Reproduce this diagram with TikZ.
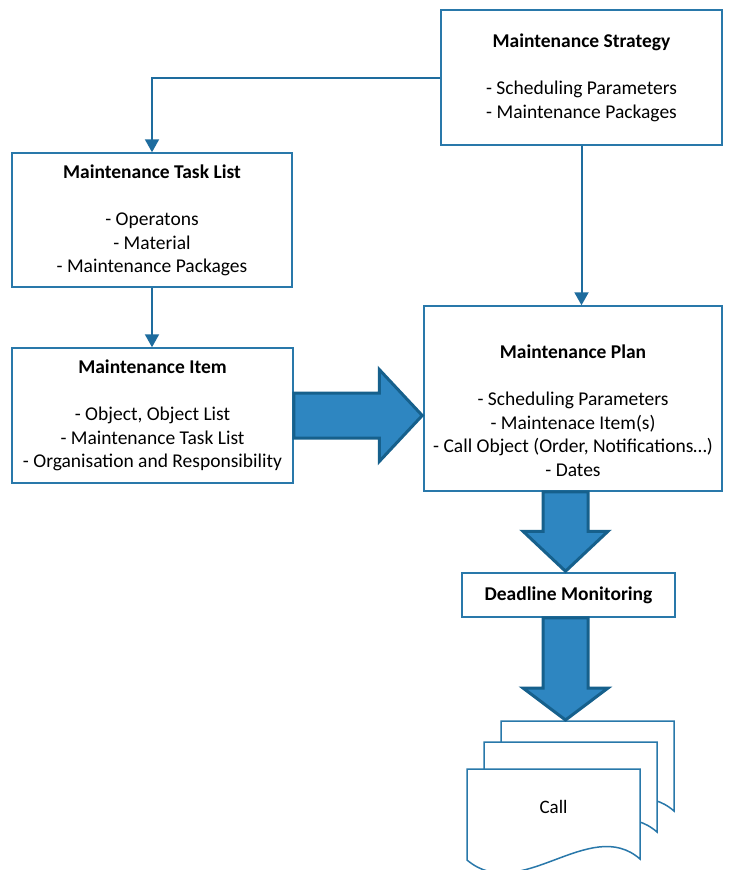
\documentclass[tikz,border=0pt]{standalone}
\usepackage{fontspec}
\setmainfont{Carlito}
\usetikzlibrary{calc,arrows.meta}
\definecolor{boxline}{RGB}{41,120,170}
\definecolor{connline}{RGB}{30,108,158}
\definecolor{arrowfill}{RGB}{46,134,193}
\definecolor{arrowedge}{RGB}{22,96,140}
\tikzset{
  infobox/.style={draw=boxline, line width=1.5pt, fill=white, rectangle, inner sep=0pt},
  boxtext/.style={align=center, font=\fontsize{19.5}{23.5}\selectfont, inner sep=0pt},
  conn/.style={draw=connline, line width=2pt, -{Triangle[length=13pt,width=14pt]}},
  bigarrow/.style={fill=arrowfill, draw=arrowedge, line width=3pt, line join=miter},
  docpage/.style={draw=boxline, line width=1.5pt, fill=white},
}
\begin{document}
\begin{tikzpicture}[x=1pt,y=-1pt]
\clip (0,0) rectangle (729,870);
\fill[white] (0,0) rectangle (729,870);

% main boxes
\node[infobox, minimum width=281pt, minimum height=135pt] (strat) at (581.5,77.5) {};
\node[boxtext] (strattext) at (581.5,78) {\textbf{Maintenance Strategy}\\[23.5pt]- Scheduling Parameters\\- Maintenance Packages};

\node[infobox, minimum width=280pt, minimum height=134pt] (task) at (152,220) {};
\node[boxtext] (tasktext) at (152,220.5) {\textbf{Maintenance Task List}\\[23.5pt]- Operatons\\- Material\\- Maintenance Packages};

\node[infobox, minimum width=281pt, minimum height=135pt] (item) at (152.5,415.5) {};
\node[boxtext] (itemtext) at (152.5,415.5) {\textbf{Maintenance Item}\\[23.5pt]- Object, Object List\\- Maintenance Task List\\- Organisation and Responsibility};

\node[infobox, minimum width=298pt, minimum height=185pt] (plan) at (573,398.5) {};
\node[boxtext] (plantext) at (573,410.5) {\textbf{Maintenance Plan}\\[23.5pt]- Scheduling Parameters\\- Maintenace Item(s)\\- Call Object (Order, Notifications\dots)\\- Dates};

\node[infobox, minimum width=213pt, minimum height=44pt, font=\fontsize{19.5}{22}\selectfont\bfseries] (dead) at (568.5,595) {Deadline Monitoring};

% thin connectors
\draw[conn] (strat.west) -| (task.north);
\draw[conn] (strat.south) -- (strat.south |- plan.north);
\draw[conn] (task.south) -- (task.south |- item.north);

% block arrow: item -> plan
\coordinate (ra) at (item.east);
\coordinate (rt) at ($(plan.west |- item.east)+(-1,0)$);
\draw[bigarrow] ($(ra)+(0,-22.5)$) -- ($(rt)+(-43,-22.5)$) -- ($(rt)+(-43,-46)$) -- (rt)
  -- ($(rt)+(-43,46)$) -- ($(rt)+(-43,22.5)$) -- ($(ra)+(0,22.5)$) -- cycle;

% block arrow: plan -> deadline monitoring
\coordinate (d1s) at ($(plan.south)+(-7.5,0)$);
\coordinate (d1t) at ($(d1s |- dead.north)+(0,-1)$);
\draw[bigarrow] ($(d1s)+(-22.5,0)$) -- ($(d1t)+(-22.5,-40)$) -- ($(d1t)+(-42.5,-40)$) -- (d1t)
  -- ($(d1t)+(42.5,-40)$) -- ($(d1t)+(22.5,-40)$) -- ($(d1s)+(22.5,0)$) -- cycle;

% call documents (back to front)
\coordinate (docback) at (501,721);
\coordinate (docmid) at (484,742);
\coordinate (docfront) at (467,769);
\foreach \c in {docback,docmid,docfront}{
  \draw[docpage] (\c) -- ++(173,0) -- ++(0,90)
    .. controls ++(-50,-44) and ++(53,45) .. ++(-173,1) -- cycle;
}
\node[font=\fontsize{19}{22}\selectfont] (call) at (553.5,807) {Call};

% block arrow: deadline monitoring -> call
\coordinate (d2s) at ($(dead.south)+(-3,0)$);
\coordinate (d2t) at (d2s |- docback);
\draw[bigarrow] ($(d2s)+(-22.5,0)$) -- ($(d2t)+(-22.5,-33)$) -- ($(d2t)+(-42.5,-33)$) -- ($(d2t)+(0,-1)$)
  -- ($(d2t)+(42.5,-33)$) -- ($(d2t)+(22.5,-33)$) -- ($(d2s)+(22.5,0)$) -- cycle;
\end{tikzpicture}
\end{document}
